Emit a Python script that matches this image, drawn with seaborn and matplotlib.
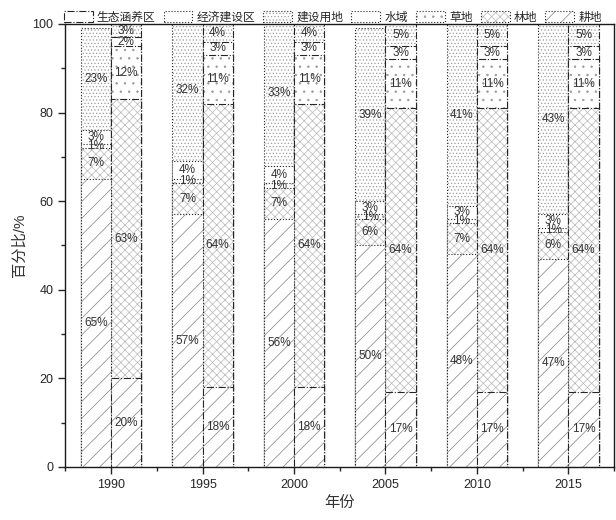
import matplotlib
matplotlib.use('Agg')
import matplotlib.pyplot as plt
import matplotlib.colors as mcolors
from matplotlib.patches import Patch
from matplotlib.ticker import MultipleLocator
import pandas as pd
import seaborn as sns

years = [1990, 1995, 2000, 2005, 2010, 2015]
zones = ['经济建设区', '生态涵养区']          # left bar, right bar
land_types = ['耕地', '林地', '草地', '水域', '建设用地']  # bottom -> top

# 经济建设区 (left bars)
econ_gengdi = [65, 57, 56, 50, 48, 47]
econ_lindi = [7, 7, 7, 6, 7, 6]
econ_caodi = [1, 1, 1, 1, 1, 1]
econ_shuiyu = [3, 4, 4, 3, 3, 3]
econ_jianshe = [23, 32, 33, 39, 41, 43]

# 生态涵养区 (right bars)
eco_gengdi = [20, 18, 18, 17, 17, 17]
eco_lindi = [63, 64, 64, 64, 64, 64]
eco_caodi = [12, 11, 11, 11, 11, 11]
eco_shuiyu = [2, 3, 3, 3, 3, 3]
eco_jianshe = [3, 4, 4, 5, 5, 5]

values = {
    '经济建设区': [econ_gengdi, econ_lindi, econ_caodi, econ_shuiyu, econ_jianshe],
    '生态涵养区': [eco_gengdi, eco_lindi, eco_caodi, eco_shuiyu, eco_jianshe],
}

rows = []
for zone in zones:
    for i, year in enumerate(years):
        cum = 0
        for lt, series in zip(land_types, values[zone]):
            cum += series[i]
            rows.append({'year': year, 'zone': zone, 'land': lt,
                         'value': series[i], 'cum': cum})
df = pd.DataFrame(rows)

hatches = {'耕地': '//', '林地': 'xxxx', '草地': '..', '水域': '', '建设用地': '.....'}
hatch_gray = {'耕地': '0.5', '林地': '0.72', '草地': '0.6', '水域': '0.5', '建设用地': '0.62'}
edge_styles = {'经济建设区': ':', '生态涵养区': '-.'}

sns.set_style('ticks')
plt.rcParams['font.family'] = ['Liberation Sans', 'Noto Sans CJK SC']
plt.rcParams['hatch.linewidth'] = 0.5
plt.rcParams['axes.linewidth'] = 1.0


def set_hatch_color(p, c):
    rgba = mcolors.to_rgba(c)
    if hasattr(p, 'set_hatchcolor'):
        p.set_hatchcolor(rgba)
    else:
        p._hatch_color = rgba


fig = plt.figure(figsize=(6.16, 5.2), dpi=100)
ax = fig.add_axes([0.106, 0.102, 0.891, 0.852])

bars = {}
for lt in reversed(land_types):
    sub = df[df['land'] == lt]
    n_before = len(ax.containers)
    sns.barplot(data=sub, x='year', y='cum', hue='zone', hue_order=zones,
                native_scale=True, dodge=True, width=0.66,
                palette=['white', 'white'], saturation=1, errorbar=None,
                legend=False, hatch=hatches[lt], ax=ax)
    for zone, cont in zip(zones, ax.containers[n_before:]):
        bars[(lt, zone)] = cont
        for p in cont:
            p.set_edgecolor('0.15')
            p.set_linestyle(edge_styles[zone])
            p.set_linewidth(0.8)
            set_hatch_color(p, hatch_gray[lt])

# percentage labels
for (lt, zone), cont in bars.items():
    sub = df[(df['land'] == lt) & (df['zone'] == zone)].sort_values('year')
    for p, (_, r) in zip(cont, sub.iterrows()):
        ax.text(p.get_x() + p.get_width() / 2, r['cum'] - r['value'] / 2,
                f"{r['value']}%", ha='center', va='center', fontsize=8.5,
                color='0.2')

ax.set_xlim(1987.5, 2017.5)
ax.set_ylim(0, 100)
ax.set_xticks(years)
ax.set_xticklabels([str(y) for y in years])
ax.xaxis.set_minor_locator(MultipleLocator(2.5))
ax.yaxis.set_major_locator(MultipleLocator(20))
ax.yaxis.set_minor_locator(MultipleLocator(10))
ax.tick_params(axis='both', which='major', direction='out', length=5,
               width=1, labelsize=9)
ax.tick_params(axis='both', which='minor', direction='out', length=3, width=1)
ax.set_xlabel('年份', fontsize=11, color='0.2')
ax.set_ylabel('百分比/%', fontsize=11, color='0.2')
for s in ax.spines.values():
    s.set_visible(True)
    s.set_color('0.1')

handles = [
    Patch(facecolor='white', edgecolor='0.15', linestyle='-.', linewidth=0.8,
          label='生态涵养区'),
    Patch(facecolor='white', edgecolor='0.15', linestyle=':', linewidth=0.8,
          label='经济建设区'),
]
for lt in ['建设用地', '水域', '草地', '林地', '耕地']:
    h = Patch(facecolor='white', edgecolor='0.15', linestyle=':',
              linewidth=0.8, hatch=hatches[lt], label=lt)
    set_hatch_color(h, hatch_gray[lt])
    handles.append(h)

ax.legend(handles=handles, loc='lower left', bbox_to_anchor=(-0.005, 0.998),
          ncol=7, frameon=False, fontsize=8.5, handlelength=2.45,
          handleheight=1.0, columnspacing=0.68, handletextpad=0.35,
          borderaxespad=0.0, borderpad=0.1)

fig.savefig('out.png', dpi=100)
